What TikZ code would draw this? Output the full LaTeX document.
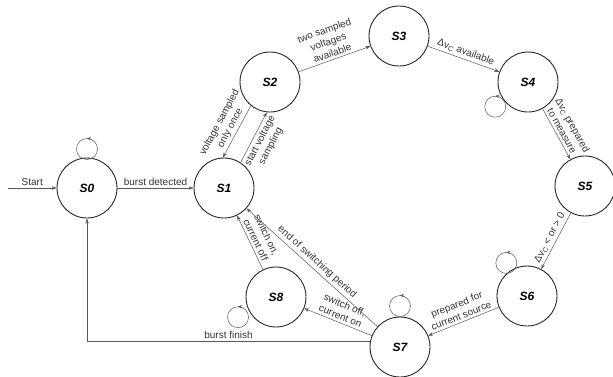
\documentclass[tikz,border=0pt]{standalone}
\usepackage{fontspec}
\setmainfont{Liberation Sans}
\usetikzlibrary{positioning,arrows.meta,decorations.markings}

\tikzset{
  state/.style={circle, draw=black!85, line width=0.9pt, minimum size=60pt, inner sep=0pt, font=\fontsize{12}{14}\selectfont\bfseries\itshape},
  trans/.style={draw=black!65, line width=0.5pt, -{Stealth[length=5pt,width=3.5pt]}},
  lbl/.style={font=\fontsize{10}{12}\selectfont, text=black!80, align=center, sloped, inner sep=2.5pt},
  selfloop/.style={draw=black!65, line width=0.5pt, postaction={decorate},
    decoration={markings, mark=at position 0.25 with {\arrow{Stealth[length=4pt,width=3.5pt]}}}}
}

\begin{document}
\begin{tikzpicture}[on grid]
      \useasboundingbox (0pt,0pt) rectangle (613pt,-376pt);
        \node[state] (s0) at (87pt,-188pt) {S0};
        \coordinate[left=79pt of s0] (start);
        \node[state, right=137pt of s0] (s1) {S1};
        \node[state, above right=106pt and 46pt of s1] (s2) {S2};
        \node[state, above right=46pt and 129pt of s2] (s3) {S3};
        \node[state, below right=46pt and 129pt of s3] (s4) {S4};
        \node[state, below right=104pt and 57pt of s4] (s5) {S5};
        \node[state, below left=110pt and 58pt of s5] (s6) {S6};
        \node[state, below left=51pt and 127pt of s6] (s7) {S7};
        \node[state, above left=50pt and 124pt of s7] (s8) {S8};

        \draw[trans] (start) -- node[lbl, above] {Start} (s0);
        \draw[trans] (s0) -- node[lbl, above] {burst detected} (s1);
        \draw[trans] (s1.57) -- node[lbl, below] {start voltage\\sampling} (s2.264);
        \draw[trans] (s2.231) -- node[lbl, above] {voltage sampled\\only once} (s1.92);
        \draw[trans] (s2) -- node[lbl, above] {two sampled\\voltages\\available} (s3);
        \draw[trans] (s3) -- node[lbl, above] {Δv\textsubscript{C} available} (s4);
        \draw[trans] (s4) -- node[lbl, above] {Δv\textsubscript{C} prepared\\to measure} (s5);
        \draw[trans] (s5) -- node[lbl, above] {Δv\textsubscript{C} < or > 0} (s6);
        \draw[trans] (s6) -- node[lbl, above] {prepared for\\current source} (s7);
        \draw[trans] (s7) -- node[lbl, above] {switch off,\\current on} (s8);
        \draw[trans] (s8) -- node[lbl, above] {switch on,\\current off} (s1);
        \draw[trans] (s7) -- node[lbl, above] {end of switching period} (s1);
        \draw[trans] (s7.170) -| node[lbl, above, pos=0.25] {burst finish} (s0);

        \draw[selfloop] ([shift={(90:39pt)}]s0.center) circle[radius=10.5pt];
        \draw[selfloop] ([shift={(217:41pt)}]s4.center) circle[radius=10.5pt];
        \draw[selfloop] ([shift={(122:39pt)}]s6.center) circle[radius=10.5pt];
        \draw[selfloop] ([shift={(90:41pt)}]s7.center) circle[radius=10.5pt];
        \draw[selfloop] ([shift={(208:43pt)}]s8.center) circle[radius=10.5pt];
\end{tikzpicture}
\end{document}
